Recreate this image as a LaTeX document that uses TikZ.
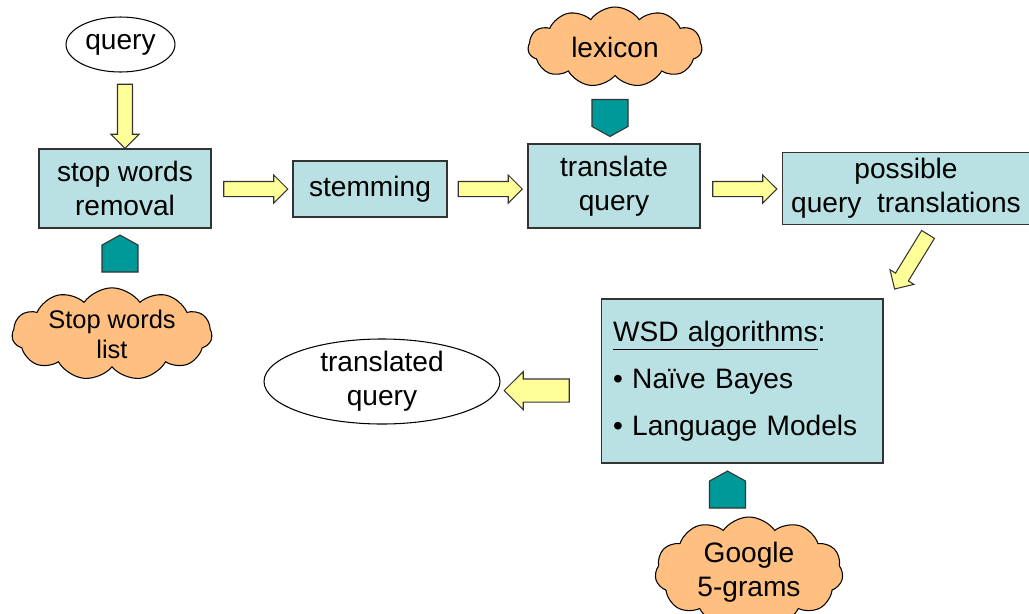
\documentclass[tikz,border=0pt]{standalone}
\usepackage{fontspec}
\setmainfont{Liberation Sans}
\usepackage{xcolor}
\usetikzlibrary{positioning, shapes.geometric, shapes.symbols, shapes.arrows}

\definecolor{boxblue}{RGB}{185,224,227}
\definecolor{cloudorange}{RGB}{255,191,128}
\definecolor{arrowyellow}{RGB}{255,255,153}
\definecolor{tealc}{RGB}{0,153,153}

\begin{document}
\begin{tikzpicture}[
      x=0.02cm, y=-0.02cm,
      box/.style={
        rectangle,
        draw=black!80,
        fill=boxblue,
        line width=0.6pt,
        align=center,
        font=\fontsize{16}{19.3}\selectfont
      },
      oval/.style={
        ellipse,
        draw=black,
        line width=0.6pt,
        align=center,
        inner sep=0pt,
        font=\fontsize{16}{19.3}\selectfont
      },
      puff/.style={
        cloud,
        cloud puffs=11,
        cloud puff arc=110,
        cloud ignores aspect,
        draw=black,
        fill=cloudorange,
        line width=0.6pt,
        align=center,
        inner sep=0pt,
        font=\fontsize{16}{19.3}\selectfont
      },
      barrow/.style={
        single arrow,
        draw=black!80,
        fill=arrowyellow,
        line width=0.6pt,
        inner xsep=0pt,
        inner ysep=0.14cm,
        single arrow head extend=0.13cm,
        minimum height=1.28cm
      },
      store/.style={
        signal,
        signal from=nowhere,
        signal pointer angle=122,
        draw=black!80,
        fill=tealc,
        line width=0.6pt,
        inner sep=0pt,
        minimum width=0.72cm,
        minimum height=0.54cm
      }
    ]
    \useasboundingbox (0,0) rectangle (1029,613);
    \clip (0,0) rectangle (1029,613);

    % top row
    \node[oval, minimum width=2.18cm, minimum height=1.1cm] (query) at (120.5,44.5) {query};
    \node[box, minimum width=3.44cm, minimum height=1.58cm] (stop) at (125,188.5) {stop words\\removal};
    \node[box, minimum width=3.08cm, minimum height=1.12cm] (stem) at (370,189) {stemming};
    \node[box, minimum width=3.44cm, minimum height=1.68cm] (trans) at (614,186) {translate\\query};
    \node[box, minimum width=4.96cm, minimum height=1.38cm] (poss) at (906,188.5) {possible\\query\ \ translations};

    % resources
    \node[puff, minimum width=3.48cm, minimum height=1.6cm] (lex) at (615,47) {lexicon};
    \node[puff, minimum width=4cm, minimum height=1.74cm,
          font=\fontsize{14.5}{17}\selectfont] (swlist) at (112,334) {Stop words\\list};
    \node[puff, minimum width=3.76cm, minimum height=2.2cm] (google) at (749,572) {Google\\5-grams};
    \node[store, signal to=south] (lexin) at (610,113) {};
    \node[store, signal to=north] (swin) at (120,258.5) {};
    \node[store, signal to=north] (gin) at (727.5,494.5) {};

    % bottom row
    \node[box, align=left, text width=5.16cm, inner xsep=0.24cm, minimum height=3.28cm,
          font=\fontsize{16}{26.6}\selectfont] (wsd) at (742,381)
          {\underline{WSD algorithms}:\\• Naïve Bayes\\• Language Models};
    \node[oval, minimum width=4.72cm, minimum height=1.46cm] (tq) at (382,381.5) {translated\\query};

    % block arrows
    \node[barrow, rotate=-90] (qarr) at (125,112.5) {};
    \node[barrow] (sarr) at (252,189) {};
    \node[barrow] (marr) at (486.5,189) {};
    \node[barrow] (tarr) at (741,189) {};
    \node[barrow, rotate=238.5] (parr) at (913.3,258.5) {};
    \node[barrow, rotate=180, inner ysep=0.22cm, single arrow head extend=0.15cm,
          minimum height=1.3cm] (warr) at (542.5,390.5) {};
  \end{tikzpicture}
\end{document}
